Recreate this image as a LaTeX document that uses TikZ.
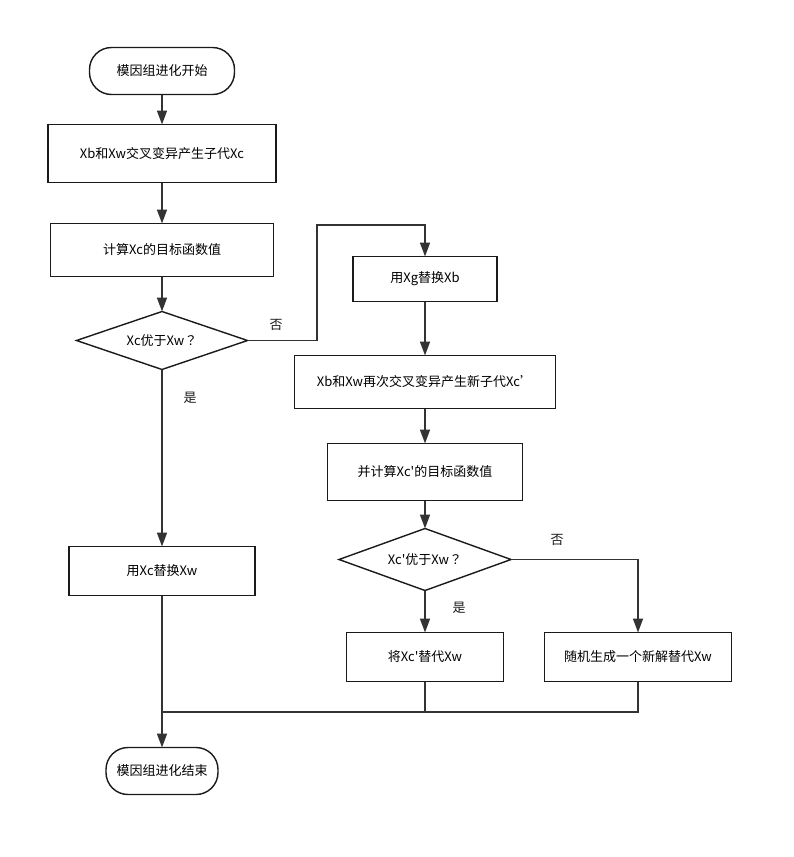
\documentclass[tikz,border=0pt]{standalone}
\usepackage{fontspec}
\newfontfamily\cjk{Noto Sans CJK SC}
\newfontfamily\cjkpunct{Noto Sans CJK TC}
\usepackage{tikz}
\usetikzlibrary{arrows.meta,positioning,shapes.geometric}
\definecolor{ink}{HTML}{1A1A1A}
\definecolor{wire}{HTML}{333333}
\tikzset{
  procbox/.style={
    rectangle, draw=ink, fill=white, line width=1.4pt,
    font=\cjk\fontsize{13}{15}\selectfont, align=center,
    inner sep=3pt, outer sep=0pt
  },
  termbox/.style={
    rectangle, rounded corners=22pt, draw=ink, fill=white, line width=1.4pt,
    minimum height=47pt,
    font=\cjk\fontsize{13}{15}\selectfont, align=center,
    inner sep=3pt, outer sep=0pt
  },
  decbox/.style={
    diamond, aspect=3, draw=ink, fill=white, line width=1.4pt,
    font=\cjk\fontsize{13}{15}\selectfont, align=center,
    inner sep=0pt, outer sep=0pt
  },
  flow/.style={
    -{Triangle[length=14pt,width=10pt]}, line width=1.6pt, color=wire
  },
  wireline/.style={
    line width=1.6pt, color=wire
  },
  lbl/.style={
    font=\cjk\fontsize{13}{15}\selectfont, color=ink
  },
}
\begin{document}
\begin{tikzpicture}[x=1pt, y=-1pt]

\useasboundingbox[fill=white] (0,0) rectangle (793,857);

% Left column
\node[termbox, minimum width=145pt] (start) at (162,71) {模因组进化开始};
\node[procbox, minimum width=228pt, minimum height=58pt, below=30pt of start] (cross) {Xb和Xw交叉变异产生子代Xc};
\node[procbox, minimum width=223pt, minimum height=53pt, below=41pt of cross] (calc) {计算Xc的目标函数值};
\node[decbox, minimum width=171pt, minimum height=58pt, below=35pt of calc] (better) {Xc优于Xw{\cjkpunct ？}};
\node[procbox, minimum width=186pt, minimum height=49pt, below=177pt of better] (replw) {用Xc替换Xw};
\node[termbox, minimum width=112pt, below=152pt of replw] (stop) {模因组进化结束};

% Right column
\node[procbox, minimum width=144pt, minimum height=45pt] (replb) at (425,279) {用Xg替换Xb};
\node[procbox, minimum width=261pt, minimum height=53pt, below=54pt of replb] (cross2) {Xb和Xw再次交叉变异产生新子代Xc’};
\node[procbox, minimum width=195pt, minimum height=57pt, below=35pt of cross2] (calc2) {并计算Xc'的目标函数值};
\node[decbox, minimum width=172pt, minimum height=62pt, below=28pt of calc2] (better2) {Xc'优于Xw{\cjkpunct ？}};
\node[procbox, minimum width=157pt, minimum height=49pt, below=42pt of better2] (take) {将Xc'替代Xw};
\node[procbox, minimum width=187pt, minimum height=49pt] (rand) at (638,657) {随机生成一个新解替代Xw};

% Branch labels
\node[lbl] (no1) at (276,325) {否};
\node[lbl] (yes1) at (190,398) {是};
\node[lbl] (no2) at (557,540) {否};
\node[lbl] (yes2) at (459,608) {是};

% Helper points
\coordinate (bend) at (317,225);
\coordinate (join) at (162,712);

% Main flow
\draw[flow] (start) -- (cross);
\draw[flow] (cross) -- (calc);
\draw[flow] (calc) -- (better);
\draw[flow] (better) -- (replw);
\draw[flow] (replw) -- (stop);

% No branch
\draw[flow] (better.east) -| (bend) -| (replb.north);
\draw[flow] (replb) -- (cross2);
\draw[flow] (cross2) -- (calc2);
\draw[flow] (calc2) -- (better2);
\draw[flow] (better2) -- (take);
\draw[flow] (better2.east) -| (rand.north);

% Merge back
\draw[wireline] (take.south) |- (join);
\draw[wireline] (rand.south) |- (join);

\end{tikzpicture}
\end{document}
